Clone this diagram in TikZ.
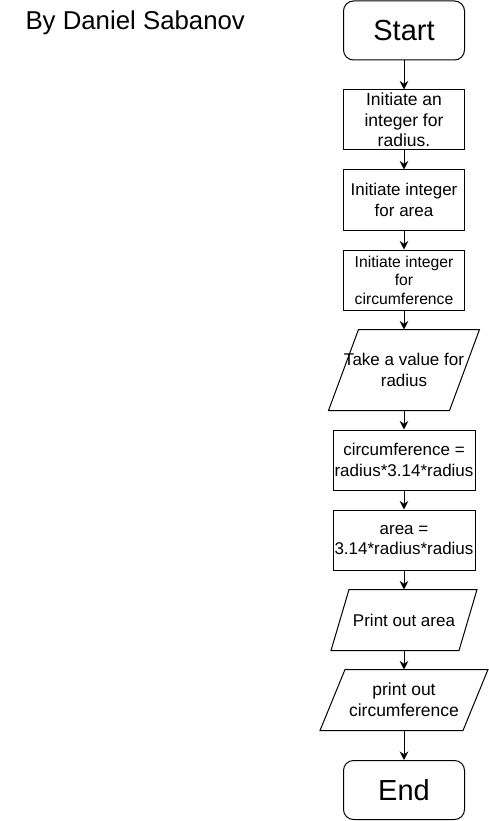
\documentclass[tikz,border=0pt]{standalone}
\usepackage{fontspec}
\setmainfont{Liberation Sans}
\usetikzlibrary{arrows.meta}

\begin{document}
\begin{tikzpicture}[x=1pt,y=-1pt,line width=1pt,
  every node/.style={align=center,inner sep=0pt},
  term/.style={draw,rounded corners=10pt,minimum width=121pt,minimum height=59pt,font=\fontsize{29}{34}\selectfont},
  proc/.style={draw,minimum width=121pt,minimum height=60pt,font=\fontsize{17}{20.7}\selectfont},
  wide/.style={proc,minimum width=142pt},
  io/.style={minimum height=60pt,font=\fontsize{17}{20.7}\selectfont},
  flow/.style={-{Stealth[length=8.5pt,width=8.5pt]}}]
\useasboundingbox (0,0) rectangle (488,821);

\node[anchor=base west,font=\fontsize{25.8}{30}\selectfont] (title) at (25,30) {By Daniel Sabanov};

\node[term] (start) at (404,30.5) {Start};
\node[proc,font=\fontsize{17.5}{20.7}\selectfont] (radius) at (404,120) {Initiate an\\integer for\\radius.};
\node[proc] (area) at (404,200) {Initiate integer\\for area};
\node[proc,font=\fontsize{15.7}{18.5}\selectfont] (circ) at (404,280) {Initiate integer\\for\\circumference};

\node[io,minimum width=120pt,minimum height=80pt] (input) at (404,370) {Take a value for\\radius};
\draw ([xshift=15pt]input.north west) -- ([xshift=15pt]input.north east) -- ([xshift=-15pt]input.south east) -- ([xshift=-15pt]input.south west) -- cycle;

\node[wide] (calccirc) at (404,460) {circumference =\\radius*3.14*radius};
\node[wide] (calcarea) at (404,540) {area =\\3.14*radius*radius};

\node[io,minimum width=127pt] (outarea) at (404,620) {Print out area};
\draw ([xshift=9pt]outarea.north west) -- ([xshift=9pt]outarea.north east) -- ([xshift=-9pt]outarea.south east) -- ([xshift=-9pt]outarea.south west) -- cycle;

\node[io,minimum width=142pt,font=\fontsize{17.5}{20.7}\selectfont] (outcirc) at (404,700) {print out\\circumference};
\draw ([xshift=12.5pt]outcirc.north west) -- ([xshift=12.5pt]outcirc.north east) -- ([xshift=-12.5pt]outcirc.south east) -- ([xshift=-12.5pt]outcirc.south west) -- cycle;

\node[term] (end) at (404,790) {End};

\draw[flow] (start) -- (radius);
\draw[flow] (radius) -- (area);
\draw[flow] (area) -- (circ);
\draw[flow] (circ) -- (input);
\draw[flow] (input) -- (calccirc);
\draw[flow] (calccirc) -- (calcarea);
\draw[flow] (calcarea) -- (outarea);
\draw[flow] (outarea) -- (outcirc);
\draw[flow] (outcirc) -- (end);
\end{tikzpicture}
\end{document}
